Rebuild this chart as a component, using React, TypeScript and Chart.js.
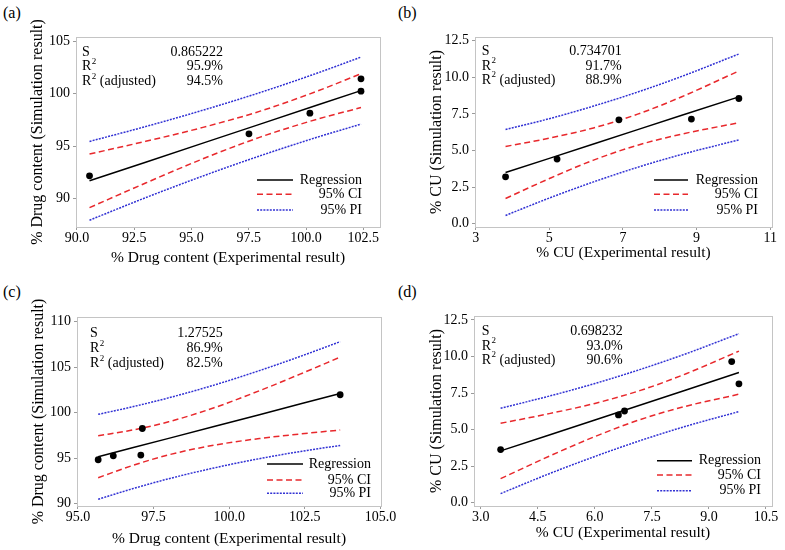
import React, { useEffect, useRef } from "react";
import { Chart, registerables } from "chart.js";

Chart.register(...registerables);

const SERIF = "'Liberation Serif', 'Times New Roman', Times, serif";
const W = 785;
const H = 550;
const RED = "#e8282c";
const BLUE = "#3232d4";
const FRAME = "#c4c4c4";

// ---------- Panel (a) ----------
const aObsX = [90.55, 97.51, 100.17, 102.4, 102.4];
const aObsY = [92.17, 96.18, 98.15, 101.43, 100.25];
const aBandX = [90.55, 93, 95.5, 98, 100.5, 102.4];
const aFit = [91.69, 93.47, 95.29, 97.1, 98.92, 100.3];
const aCiUp = [94.25, 95.46, 96.79, 98.34, 100.26, 101.92];
const aCiLo = [89.13, 91.48, 93.79, 95.86, 97.58, 98.68];
const aPiUp = [95.45, 96.87, 98.43, 100.12, 101.98, 103.5];
const aPiLo = [87.93, 90.08, 92.15, 94.08, 95.86, 97.1];
const aXTicks = [90, 92.5, 95, 97.5, 100, 102.5];
const aYTicks = [90, 95, 100, 105];
const aStats = ["0.865222", "95.9%", "94.5%"];

// ---------- Panel (b) ----------
const bObsX = [3.81, 5.21, 6.89, 8.86, 10.15];
const bObsY = [3.2, 4.41, 7.09, 7.14, 8.55];
const bBandX = [3.81, 5, 6.2, 7.4, 8.6, 10.15];
const bFit = [3.49, 4.46, 5.44, 6.42, 7.4, 8.66];
const bCiUp = [5.27, 5.84, 6.54, 7.48, 8.67, 10.43];
const bCiLo = [1.72, 3.08, 4.34, 5.36, 6.12, 6.89];
const bPiUp = [6.43, 7.17, 8.03, 8.99, 10.06, 11.59];
const bPiLo = [0.56, 1.75, 2.85, 3.85, 4.73, 5.72];
const bXTicks = [3, 5, 7, 9, 11];
const bYTicks = [0, 2.5, 5, 7.5, 10, 12.5];
const bStats = ["0.734701", "91.7%", "88.9%"];

// ---------- Panel (c) ----------
const cObsX = [95.67, 96.17, 97.08, 97.13, 103.67];
const cObsY = [94.82, 95.25, 95.33, 98.25, 101.96];
const cBandX = [95.67, 96.8, 98, 99.5, 101, 102.4, 103.67];
const cFit = [95.15, 96.13, 97.17, 98.47, 99.77, 100.99, 102.09];
const cCiUp = [97.45, 98.08, 98.99, 100.53, 102.4, 104.3, 106.09];
const cCiLo = [92.85, 94.18, 95.36, 96.42, 97.15, 97.67, 98.09];
const cPiUp = [99.81, 100.63, 101.62, 103.02, 104.61, 106.23, 107.79];
const cPiLo = [90.48, 91.63, 92.73, 93.92, 94.94, 95.75, 96.39];
const cXTicks = [95, 97.5, 100, 102.5, 105];
const cYTicks = [90, 95, 100, 105, 110];
const cStats = ["1.27525", "86.9%", "82.5%"];

// ---------- Panel (d) ----------
const dObsX = [3.52, 6.62, 6.78, 9.6, 9.79];
const dObsY = [3.63, 6.0, 6.27, 9.65, 8.13];
const dBandX = [3.52, 4.8, 6.0, 7.2, 8.4, 9.79];
const dFit = [3.54, 4.63, 5.66, 6.68, 7.71, 8.9];
const dCiUp = [5.43, 6.09, 6.79, 7.68, 8.82, 10.37];
const dCiLo = [1.64, 3.18, 4.52, 5.69, 6.6, 7.42];
const dPiUp = [6.46, 7.29, 8.15, 9.12, 10.19, 11.56];
const dPiLo = [0.62, 1.98, 3.16, 4.25, 5.23, 6.23];
const dXTicks = [3, 4.5, 6, 7.5, 9, 10.5];
const dYTicks = [0, 2.5, 5, 7.5, 10, 12.5];
const dStats = ["0.698232", "93.0%", "90.6%"];

const legendLabels = ["Regression", "95% CI", "95% PI"];

type PanelDef = {
  tag: string;
  tagPos: [number, number];
  obsX: number[];
  obsY: number[];
  bandX: number[];
  fit: number[];
  ciUp: number[];
  ciLo: number[];
  piUp: number[];
  piLo: number[];
  xTicks: number[];
  yTicks: number[];
  xDec: number;
  yDec: number;
  xTitle: string;
  yTitle: string;
  stats: string[];
  xMin: number;
  xMax: number;
  yMin: number;
  yMax: number;
  cl: number;
  cr: number;
  ct: number;
  cb: number;
  yTitlePad: number;
  xTitlePadBottom: number;
  statsLeft: number;
  valRight: number;
  statRows: number[];
  legTextRight: number;
  legLine: [number, number];
  legRows: number[];
};

const panels: PanelDef[] = [
  {
    tag: "(a)", tagPos: [3, 5],
    obsX: aObsX, obsY: aObsY, bandX: aBandX, fit: aFit, ciUp: aCiUp, ciLo: aCiLo, piUp: aPiUp, piLo: aPiLo,
    xTicks: aXTicks, yTicks: aYTicks, xDec: 1, yDec: 0,
    xTitle: "% Drug content (Experimental result)", yTitle: "% Drug content (Simulation result)",
    stats: aStats,
    xMin: 89.96, xMax: 103.23, yMin: 87.28, yMax: 105.42,
    cl: 76, cr: 380, ct: 37, cb: 227,
    yTitlePad: 2, xTitlePadBottom: 10,
    statsLeft: 6, valRight: 147, statRows: [15, 29.7, 44.7],
    legTextRight: -18, legLine: [-123, -87], legRows: [-47, -32.7, -17],
  },
  {
    tag: "(b)", tagPos: [398, 5],
    obsX: bObsX, obsY: bObsY, bandX: bBandX, fit: bFit, ciUp: bCiUp, ciLo: bCiLo, piUp: bPiUp, piLo: bPiLo,
    xTicks: bXTicks, yTicks: bYTicks, xDec: 0, yDec: 1,
    xTitle: "% CU (Experimental result)", yTitle: "% CU (Simulation result)",
    stats: bStats,
    xMin: 2.98, xMax: 11.05, yMin: -0.23, yMax: 12.75,
    cl: 475, cr: 772, ct: 37, cb: 227,
    yTitlePad: 2, xTitlePadBottom: 15,
    statsLeft: 6.7, valRight: 146.7, statRows: [14.7, 29, 43],
    legTextRight: -14, legLine: [-118, -84], legRows: [-47, -32.7, -17],
  },
  {
    tag: "(c)", tagPos: [3, 284],
    obsX: cObsX, obsY: cObsY, bandX: cBandX, fit: cFit, ciUp: cCiUp, ciLo: cCiLo, piUp: cPiUp, piLo: cPiLo,
    xTicks: cXTicks, yTicks: cYTicks, xDec: 1, yDec: 0,
    xTitle: "% Drug content (Experimental result)", yTitle: "% Drug content (Simulation result)",
    stats: cStats,
    xMin: 94.97, xMax: 105.02, yMin: 89.74, yMax: 110.5,
    cl: 77, cr: 381, ct: 317, cb: 506,
    yTitlePad: 2, xTitlePadBottom: 8,
    statsLeft: 13, valRight: 145.7, statRows: [16.3, 31.3, 46.3],
    legTextRight: -10, legLine: [-114, -78], legRows: [-42, -26, -12.7],
  },
  {
    tag: "(d)", tagPos: [398, 284],
    obsX: dObsX, obsY: dObsY, bandX: dBandX, fit: dFit, ciUp: dCiUp, ciLo: dCiLo, piUp: dPiUp, piLo: dPiLo,
    xTicks: dXTicks, yTicks: dYTicks, xDec: 1, yDec: 1,
    xTitle: "% CU (Experimental result)", yTitle: "% CU (Simulation result)",
    stats: dStats,
    xMin: 2.82, xMax: 10.66, yMin: -0.23, yMax: 12.77,
    cl: 474, cr: 772, ct: 316, cb: 506,
    yTitlePad: 3, xTitlePadBottom: 14,
    statsLeft: 7.7, valRight: 148.7, statRows: [15.7, 30, 44],
    legTextRight: -11, legLine: [-115, -80], legRows: [-45.3, -31, -15.3],
  },
];

const pts = (xs: number[], ys: number[]) => xs.map((x, i) => ({ x, y: ys[i] }));

function PanelChart({ p }: { p: PanelDef }) {
  const ref = useRef<HTMLCanvasElement | null>(null);
  useEffect(() => {
    const canvas = ref.current;
    if (!canvas) return;
    const yW = 50;
    const xH = 50;
    const decor = {
      id: "decor" + p.tag,
      afterDraw(chart: any) {
        const ctx = chart.ctx as CanvasRenderingContext2D;
        const a = chart.chartArea;
        ctx.save();
        ctx.strokeStyle = FRAME;
        ctx.lineWidth = 1;
        ctx.setLineDash([]);
        ctx.strokeRect(Math.round(a.left) + 0.5, Math.round(a.top) + 0.5, Math.round(a.right - a.left), Math.round(a.bottom - a.top));
        ctx.fillStyle = "#000";
        ctx.textBaseline = "middle";
        const big = `14px ${SERIF}`;
        const small = `9px ${SERIF}`;
        const x0 = a.left + p.statsLeft;
        const rows = p.statRows.map((r) => a.top + r);
        ctx.font = big;
        ctx.textAlign = "left";
        ctx.fillText("S", x0, rows[0]);
        const drawR2 = (y: number, rest: string) => {
          ctx.font = big;
          ctx.fillText("R", x0, y);
          const wR = ctx.measureText("R").width;
          ctx.font = small;
          ctx.fillText("2", x0 + wR + 0.5, y - 5);
          const w2 = ctx.measureText("2").width;
          ctx.font = big;
          if (rest) ctx.fillText(rest, x0 + wR + w2 + 0.5, y);
        };
        drawR2(rows[1], "");
        drawR2(rows[2], " (adjusted)");
        ctx.font = big;
        ctx.textAlign = "right";
        p.stats.forEach((s, i) => ctx.fillText(s, a.left + p.valRight, rows[i]));
        const styles = [
          { color: "#000", dash: [] as number[] },
          { color: RED, dash: [6, 3.5] },
          { color: BLUE, dash: [2, 1.2] },
        ];
        legendLabels.forEach((lab, i) => {
          const y = a.bottom + p.legRows[i];
          ctx.beginPath();
          ctx.strokeStyle = styles[i].color;
          ctx.lineWidth = 1.5;
          ctx.setLineDash(styles[i].dash);
          ctx.moveTo(a.right + p.legLine[0], y);
          ctx.lineTo(a.right + p.legLine[1], y);
          ctx.stroke();
          ctx.setLineDash([]);
          ctx.fillStyle = "#000";
          ctx.font = big;
          ctx.textAlign = "right";
          ctx.fillText(lab, a.right + p.legTextRight, y);
        });
        ctx.restore();
      },
    };

    const lineDs = (ys: number[], color: string, dash: number[], curve: boolean) => ({
      data: pts(p.bandX, ys),
      showLine: true,
      pointRadius: 0,
      pointHoverRadius: 0,
      borderColor: color,
      backgroundColor: color,
      borderWidth: 1.5,
      borderDash: dash,
      fill: false,
      tension: 0,
      cubicInterpolationMode: curve ? "monotone" : "default",
    });

    const tickFont = { family: SERIF, size: 14 };

    const chart = new Chart(canvas, {
      type: "scatter",
      data: {
        datasets: [
          {
            data: pts(p.obsX, p.obsY),
            pointRadius: 3.4,
            pointHoverRadius: 3.4,
            backgroundColor: "#000",
            borderColor: "#000",
            borderWidth: 0,
            showLine: false,
          } as any,
          lineDs(p.fit, "#000", [], false) as any,
          lineDs(p.ciUp, RED, [6, 3.5], true) as any,
          lineDs(p.ciLo, RED, [6, 3.5], true) as any,
          lineDs(p.piUp, BLUE, [2, 1.2], true) as any,
          lineDs(p.piLo, BLUE, [2, 1.2], true) as any,
        ],
      },
      options: {
        responsive: false,
        animation: false,
        events: [],
        layout: {
          padding: {
            left: p.cl - yW,
            top: p.ct,
            right: W - p.cr,
            bottom: H - p.cb - xH,
          },
        },
        plugins: {
          legend: { display: false },
          tooltip: { enabled: false },
        },
        scales: {
          x: {
            type: "linear",
            min: p.xMin,
            max: p.xMax,
            afterBuildTicks: (s: any) => {
              s.ticks = p.xTicks.map((v) => ({ value: v }));
            },
            afterFit: (s: any) => {
              s.height = xH;
            },
            ticks: {
              autoSkip: false,
              maxRotation: 0,
              padding: 0,
              color: "#000",
              font: tickFont,
              callback: (v: any) => Number(v).toFixed(p.xDec),
            },
            grid: {
              display: true,
              drawOnChartArea: false,
              drawTicks: true,
              tickLength: 3,
              color: "#9a9a9a",
            },
            border: { display: false },
            title: {
              display: true,
              text: p.xTitle,
              color: "#000",
              font: { family: SERIF, size: 15.5 },
              padding: { top: 0, bottom: p.xTitlePadBottom },
            },
          },
          y: {
            type: "linear",
            min: p.yMin,
            max: p.yMax,
            afterBuildTicks: (s: any) => {
              s.ticks = p.yTicks.map((v) => ({ value: v }));
            },
            afterFit: (s: any) => {
              s.width = yW;
            },
            ticks: {
              autoSkip: false,
              padding: 3,
              color: "#000",
              font: tickFont,
              callback: (v: any) => Number(v).toFixed(p.yDec),
            },
            grid: {
              display: true,
              drawOnChartArea: false,
              drawTicks: true,
              tickLength: 3,
              color: "#9a9a9a",
            },
            border: { display: false },
            title: {
              display: true,
              text: p.yTitle,
              color: "#000",
              font: { family: SERIF, size: 16 },
              padding: { top: p.yTitlePad, bottom: 0 },
            },
          },
        },
      } as any,
      plugins: [decor],
    });
    return () => chart.destroy();
  }, [p]);

  return (
    <canvas
      ref={ref}
      width={W}
      height={H}
      style={{ position: "absolute", left: 0, top: 0, width: W, height: H, pointerEvents: "none" }}
    />
  );
}

export default function App() {
  return (
    <div style={{ position: "absolute", left: 0, top: 0, width: W, height: H, background: "#fff", overflow: "hidden" }}>
      {panels.map((p) => (
        <div
          key={"t" + p.tag}
          style={{
            position: "absolute",
            left: p.tagPos[0],
            top: p.tagPos[1],
            fontFamily: SERIF,
            fontSize: 16,
            lineHeight: "16px",
            color: "#000",
          }}
        >
          {p.tag}
        </div>
      ))}
      {panels.map((p) => (
        <PanelChart key={p.tag} p={p} />
      ))}
    </div>
  );
}
